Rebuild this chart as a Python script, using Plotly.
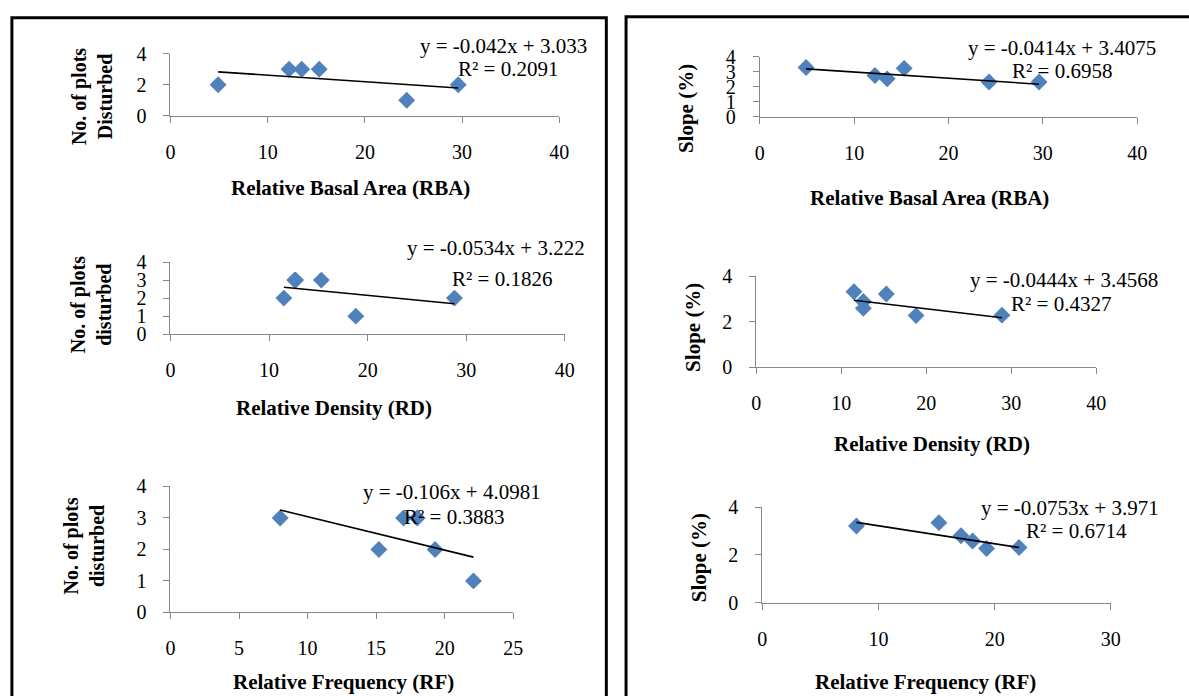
import plotly.graph_objects as go

# ---------------- data ----------------
rba_x = [4.9, 12.2, 13.5, 15.3, 24.3, 29.6]
rba_disturbed = [2, 3, 3, 3, 1, 2]
rd_x = [11.5, 12.6, 12.7, 15.3, 18.8, 28.8]
rd_disturbed = [2, 3, 3, 3, 1, 2]
rf_x = [8.0, 15.2, 17.0, 18.0, 19.3, 22.1]
rf_disturbed = [3, 2, 3, 3, 2, 1]

rba_slope_x = [4.9, 12.2, 13.5, 15.3, 24.3, 29.6]
rba_slope = [3.30, 2.76, 2.54, 3.24, 2.33, 2.33]
rd_slope_x = [11.5, 12.6, 12.6, 15.3, 18.8, 28.9]
rd_slope = [3.32, 2.89, 2.59, 3.22, 2.27, 2.29]
rf_slope_x = [8.1, 15.2, 17.1, 18.1, 19.3, 22.1]
rf_slope = [3.21, 3.35, 2.80, 2.58, 2.27, 2.31]

trend_slope = [-0.042, -0.0534, -0.106, -0.0414, -0.0444, -0.0753]
trend_intercept = [3.033, 3.222, 4.0981, 3.4075, 3.4568, 3.971]
r_squared = [0.2091, 0.1826, 0.3883, 0.6958, 0.4327, 0.6714]

x_titles = ["Relative Basal Area (RBA)", "Relative Density (RD)", "Relative Frequency (RF)",
            "Relative Basal Area (RBA)", "Relative Density (RD)", "Relative Frequency (RF)"]
y_titles = ["No. of plots<br>Disturbed", "No. of plots<br>disturbed", "No. of plots<br>disturbed",
            "Slope (%)", "Slope (%)", "Slope (%)"]
x_max = [40, 40, 25, 40, 40, 30]
x_dtick = [10, 10, 5, 10, 10, 10]
y_dtick = [2, 1, 1, 1, 2, 2]

series = [(rba_x, rba_disturbed), (rd_x, rd_disturbed), (rf_x, rf_disturbed),
          (rba_slope_x, rba_slope), (rd_slope_x, rd_slope), (rf_slope_x, rf_slope)]

# ---------------- layout geometry (pixels) ----------------
W, H = 1189, 696
# x0px, x1px (axis range 0..xmax), ybottom px (y=0), ytop px (y=4)
geom = [
    (167.6, 561.4, 108.3, 44.0),
    (167.6, 567.0, 333.7, 259.3),
    (167.6, 514.7, 621.0, 491.0),
    (764.5, 1146.6, 109.3, 47.5),
    (760.8, 1105.3, 367.7, 274.0),
    (767.0, 1120.0, 611.0, 512.3),
]
# annotation positions (px): eq center, r2 center, xtitle center, ytitle center
eq_pos = [(505, 36), (497, 245), (453, 497), (1070, 38), (1073, 278), (1079, 513)]
r2_pos = [(509, 60), (503, 277), (455, 522), (1070, 62), (1069, 303), (1085, 537)]
xt_pos = [(350, 183), (333, 410), (343, 693), (936, 193), (939, 447), (932, 693)]
yt_pos = [(88, 88), (88, 303), (80, 552), (690, 101), (696, 327), (703, 565)]
yt_size = [20, 20, 20, 21, 21, 21]

def px(x):
    return x / W

def py(y):
    return 1 - y / H

SERIF = "Liberation Serif, Times New Roman, serif"
AXIS_COLOR = "#868686"
MARKER_COLOR = "#4F81BD"

fig = go.Figure()
layout = dict(width=W, height=H, margin=dict(l=0, r=0, t=0, b=0),
              paper_bgcolor="white", plot_bgcolor="white", showlegend=False,
              font=dict(family=SERIF, size=20, color="black"))
annotations = []

for i in range(6):
    n = "" if i == 0 else str(i + 1)
    xs, ys = series[i]
    fig.add_trace(go.Scatter(x=xs, y=ys, mode="markers",
                             marker=dict(symbol="diamond", size=13, color=MARKER_COLOR,
                                         line=dict(width=0)),
                             xaxis="x" + n, yaxis="y" + n, cliponaxis=False))
    xa, xb = min(xs), max(xs)
    fig.add_trace(go.Scatter(x=[xa, xb],
                             y=[trend_slope[i] * xa + trend_intercept[i],
                                trend_slope[i] * xb + trend_intercept[i]],
                             mode="lines", line=dict(color="black", width=1.6),
                             xaxis="x" + n, yaxis="y" + n, cliponaxis=False))
    x0, x1, yb, yt = geom[i]
    layout["xaxis" + n] = dict(domain=[px(x0), px(x1)], range=[0, x_max[i]], dtick=x_dtick[i],
                               tick0=0, anchor="y" + n, showgrid=False, zeroline=False,
                               showline=True, linecolor=AXIS_COLOR, linewidth=1,
                               ticks="outside", ticklen=6, tickcolor=AXIS_COLOR,
                               tickfont=dict(family=SERIF, size=20, color="black"),
                               ticklabelstandoff=12)
    layout["yaxis" + n] = dict(domain=[py(yb), py(yt)], range=[0, 4], dtick=y_dtick[i],
                               tick0=0, anchor="x" + n, showgrid=False, zeroline=False,
                               showline=True, linecolor=AXIS_COLOR, linewidth=1,
                               ticks="outside", ticklen=6, tickcolor=AXIS_COLOR,
                               tickfont=dict(family=SERIF, size=20, color="black"),
                               ticklabelstandoff=13)
    annotations.append(dict(text=f"y = {trend_slope[i]}x + {trend_intercept[i]}",
                            x=px(eq_pos[i][0]), y=py(eq_pos[i][1]), xref="paper", yref="paper",
                            xanchor="center", yanchor="middle", showarrow=False,
                            font=dict(family=SERIF, size=21, color="black")))
    annotations.append(dict(text=f"R² = {r_squared[i]}",
                            x=px(r2_pos[i][0]), y=py(r2_pos[i][1]), xref="paper", yref="paper",
                            xanchor="center", yanchor="middle", showarrow=False,
                            font=dict(family=SERIF, size=21, color="black")))
    annotations.append(dict(text=f"<b>{x_titles[i]}</b>",
                            x=px(xt_pos[i][0]), y=py(xt_pos[i][1]), xref="paper", yref="paper",
                            xanchor="center", yanchor="middle", showarrow=False,
                            font=dict(family=SERIF, size=21, color="black")))
    annotations.append(dict(text=f"<b>{y_titles[i]}</b>", textangle=-90,
                            x=px(yt_pos[i][0]), y=py(yt_pos[i][1]), xref="paper", yref="paper",
                            xanchor="center", yanchor="middle", showarrow=False,
                            font=dict(family=SERIF, size=yt_size[i], color="black")))

layout["annotations"] = annotations
layout["shapes"] = [
    dict(type="rect", xref="paper", yref="paper", x0=px(7), x1=px(609), y0=py(720), y1=py(7),
         line=dict(color="black", width=3), fillcolor="rgba(0,0,0,0)", layer="above"),
    dict(type="rect", xref="paper", yref="paper", x0=px(629), x1=px(1210), y0=py(720), y1=py(6),
         line=dict(color="black", width=3), fillcolor="rgba(0,0,0,0)", layer="above"),
]
fig.update_layout(**layout)
fig.write_html("out.html")
